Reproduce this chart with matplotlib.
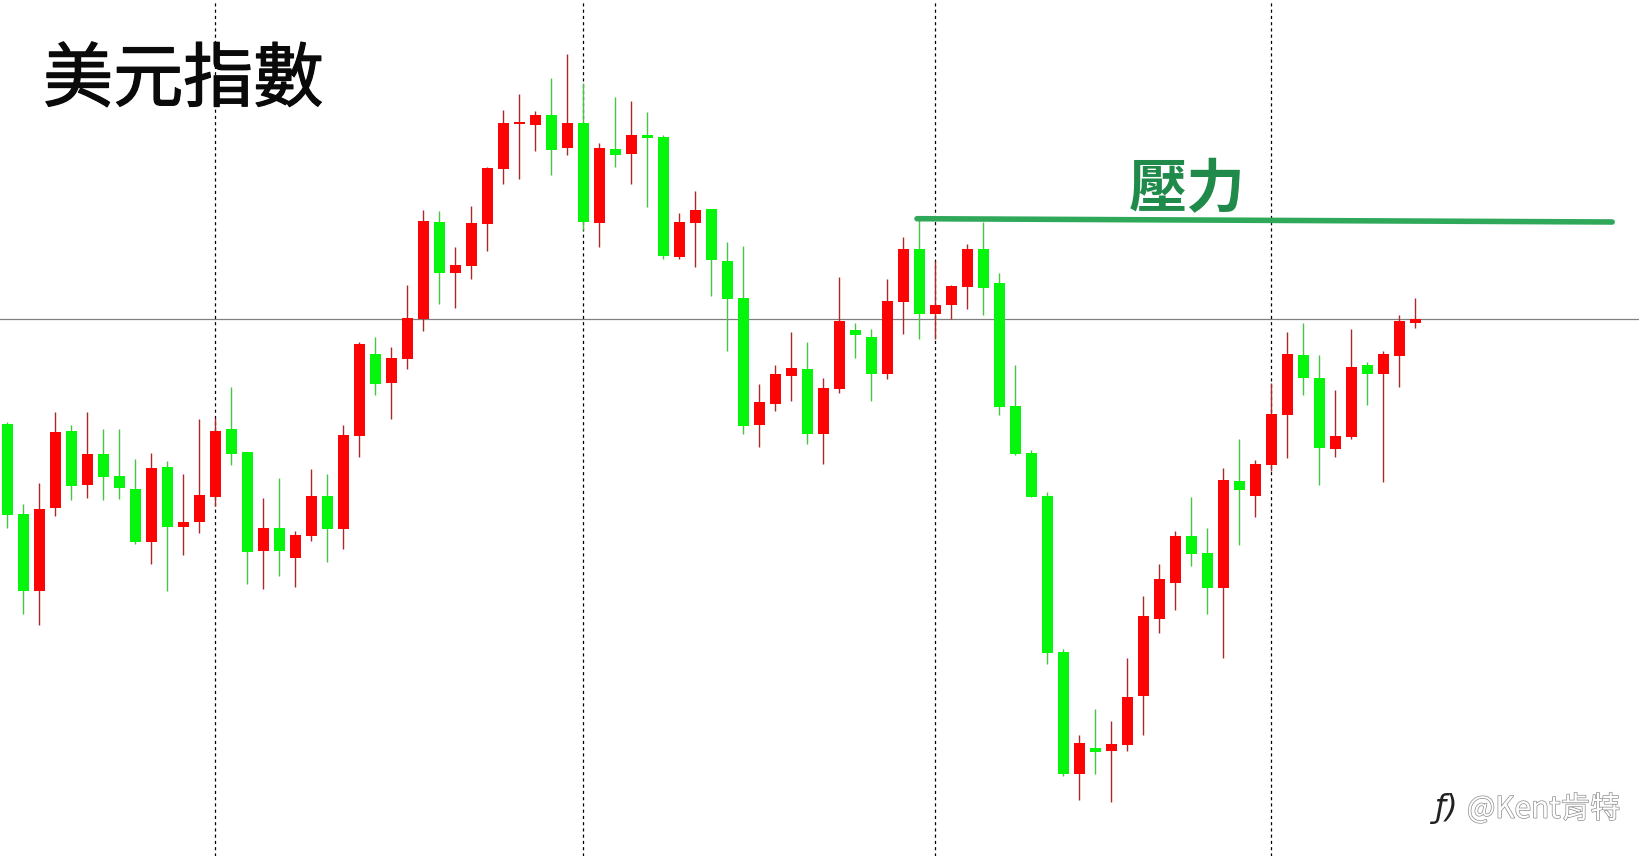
import numpy as np
import matplotlib
matplotlib.use('Agg')
import matplotlib.pyplot as plt
import matplotlib.patheffects as pe

plt.rcParams['font.family'] = ['Noto Sans CJK TC', 'DejaVu Sans']

# candle colours, R = up, G = down
candle_colors = ("GGRRGRGGGR" "GRRRGGRGRR" "GRRGRRRGRR" "RRRRGRGRGR" "GGRRGGGRRR"
                 "GRRGGRRGRR" "RGGGGGGRGR" "RRRRGGRGRR" "RGGRRGRRR")

# values, no price scale is shown so they are in image height units
high = [422.4, 504.1, 482.9, 412.2, 424.5, 412.2, 428.6, 428.6, 459.2, 453.1,
        461.2, 473.9, 419.2, 418.4, 386.9, 451.8, 498.0, 477.6, 531.4, 469.4,
        474.3, 424.5, 342.0, 337.1, 346.5, 284.5, 210.2, 211.4, 246.9, 206.1,
        167.3, 110.2, 93.9, 111.0, 78.0, 54.0, 82.7, 143.3, 97.0, 101.0,
        112.0, 135.0, 213.3, 191.0, 208.7, 241.7, 246.0, 384.3, 365.0, 332.3,
        342.0, 378.0, 277.0, 323.3, 329.0, 279.0, 237.0, 220.0, 260.7, 285.0,
        244.0, 221.7, 273.0, 364.5, 449.7, 492.3, 648.5, 734.5, 709.1, 721.2,
        658.4, 596.0, 563.9, 530.5, 496.8, 528.0, 468.4, 439.1, 460.0, 382.9,
        332.1, 323.0, 355.3, 389.8, 328.8, 361.9, 351.2, 314.9, 297.6]
body_top = [424.1, 513.9, 509.0, 431.8, 431.0, 453.9, 453.9, 475.9, 489.0, 468.2,
            466.9, 522.0, 495.1, 431.0, 429.0, 451.8, 528.2, 528.2, 535.1, 496.3,
            496.3, 435.1, 344.1, 353.9, 358.4, 318.0, 220.8, 222.0, 265.3, 222.9,
            168.2, 123.3, 122.4, 115.1, 115.0, 123.0, 123.0, 148.0, 149.0, 135.0,
            135.0, 136.7, 222.0, 210.0, 209.0, 261.0, 298.0, 402.0, 374.0, 368.0,
            369.0, 388.0, 321.0, 330.0, 337.0, 301.0, 249.0, 249.0, 305.0, 286.0,
            249.0, 249.0, 283.0, 406.1, 453.0, 496.0, 652.2, 742.9, 748.0, 744.0,
            696.9, 616.2, 579.1, 536.1, 536.1, 553.0, 479.9, 480.6, 464.0, 414.1,
            353.8, 354.9, 378.1, 436.1, 367.1, 364.9, 353.8, 321.2, 319.3]
body_bot = [515.1, 590.6, 590.6, 507.8, 485.7, 484.9, 476.7, 488.2, 542.0, 542.4,
            526.5, 526.9, 522.4, 497.1, 453.5, 551.8, 551.4, 551.4, 557.6, 535.5,
            528.6, 528.6, 435.5, 383.7, 382.9, 358.8, 319.2, 272.7, 272.7, 265.7,
            223.7, 169.4, 123.7, 124.5, 149.7, 147.7, 222.0, 222.7, 155.0, 154.0,
            138.0, 256.0, 257.0, 223.0, 260.0, 299.0, 426.0, 425.0, 404.0, 376.0,
            434.0, 434.0, 389.0, 335.0, 374.0, 374.0, 302.0, 314.0, 314.0, 305.0,
            287.0, 288.0, 407.0, 454.1, 496.8, 652.9, 774.1, 774.1, 752.1, 751.0,
            745.1, 695.9, 619.0, 583.1, 554.1, 587.9, 587.9, 490.1, 496.0, 465.1,
            414.8, 378.1, 447.9, 449.0, 436.9, 374.0, 374.0, 356.0, 323.0]
low = [527.8, 614.3, 624.5, 515.5, 499.6, 498.0, 500.4, 498.8, 543.7, 563.7,
       591.0, 555.1, 533.1, 506.1, 464.5, 583.7, 588.6, 575.5, 586.5, 540.8,
       561.6, 548.6, 457.1, 395.1, 418.8, 368.6, 331.4, 304.1, 307.8, 278.8,
       251.4, 183.7, 178.8, 150.6, 175.0, 155.0, 230.0, 246.7, 167.0, 184.0,
       206.7, 259.0, 259.0, 267.0, 296.0, 351.0, 434.0, 446.7, 410.7, 401.0,
       444.0, 464.0, 393.0, 358.0, 401.0, 379.0, 334.0, 339.0, 339.0, 319.0,
       309.0, 315.0, 415.0, 454.6, 497.4, 663.5, 775.5, 799.8, 773.7, 802.4,
       750.6, 734.9, 632.7, 609.9, 566.2, 614.0, 657.6, 544.5, 517.0, 471.0,
       458.2, 395.0, 484.6, 457.1, 438.7, 405.0, 482.0, 386.9, 328.4]

session_lines = [13, 36, 58, 79]
ref_level = 319.4
resist_x = [56.85, 100.3]
resist_y = [218.7, 222.0]

fig = plt.figure(figsize=(16.4, 8.56), dpi=100)
ax = fig.add_axes([0, 0, 1, 1])

x = np.arange(len(high))
up = np.array([c == 'R' for c in candle_colors])
high = np.array(high)
low = np.array(low)
body_top = np.array(body_top)
body_bot = np.array(body_bot)

ax.axhline(ref_level, color='#808080', lw=0.9, zorder=1)
for s in session_lines:
    ax.axvline(s, color='black', lw=0.9, ls=(0, (2.5, 2.5)), zorder=1)

ax.vlines(x[up], high[up], low[up], color='#a82a2a', lw=1.0, zorder=2)
ax.vlines(x[~up], high[~up], low[~up], color='#45c445', lw=1.0, zorder=2)
ax.bar(x[up], (body_bot - body_top)[up], bottom=body_top[up], width=0.69,
       color='#fb0404', linewidth=0, zorder=3)
ax.bar(x[~up], (body_bot - body_top)[~up], bottom=body_top[~up], width=0.69,
       color='#06f50c', linewidth=0, zorder=3)

ax.plot(resist_x, resist_y, color='#2fa85a', lw=4.0, solid_capstyle='round', zorder=4)

ax.set_xlim(-7.4 / 16, (1640 - 7.4) / 16)
ax.set_ylim(856, 0)
ax.axis('off')

# regular weight with a thin stroke, the original strokes sit between regular and bold
fig.text(43 / 1640, 1 - 117 / 856, '美元指數', fontsize=50.5, color='#0a0a0a',
         ha='left', va='bottom',
         path_effects=[pe.withStroke(linewidth=0.9, foreground='#0a0a0a')])
fig.text(1187 / 1640, 1 - 190 / 856, '壓力', fontsize=42, color='#1f8a4a',
         ha='center', va='center', fontweight='bold')

# watermark, light text with a thin dark edge
fig.text(1467 / 1640, 1 - 809 / 856, '@Kent肯特', fontsize=21.5, color='white',
         ha='left', va='center',
         path_effects=[pe.withStroke(linewidth=1.0, foreground='#8c8c8c')])
fig.text(1446 / 1640, 1 - 808 / 856, 'ƒ)', fontsize=23, color='#222222',
         ha='center', va='center', style='italic', family='DejaVu Sans')

fig.savefig('out.png', dpi=100, facecolor='white')
